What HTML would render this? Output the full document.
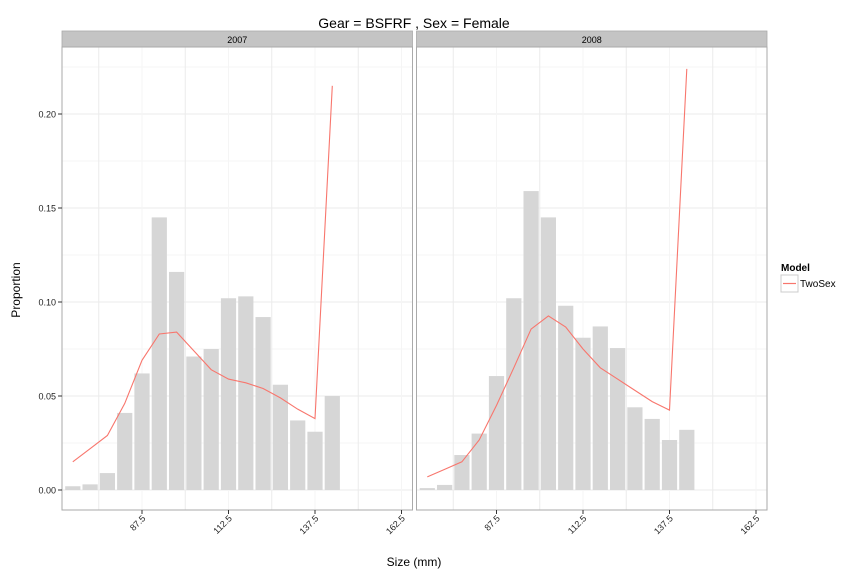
<!DOCTYPE html>
<html><head><meta charset="utf-8"><style>
body{margin:0;background:#fff}
svg{font-family:"Liberation Sans",sans-serif;display:block}
</style></head><body>
<svg id="c" width="864" height="576" viewBox="0 0 864 576">
<text x="414" y="28" text-anchor="middle" font-size="14" fill="#000">Gear = BSFRF , Sex = Female</text>
<text transform="translate(20,290) rotate(-90)" text-anchor="middle" font-size="12">Proportion</text>
<text x="414" y="566" text-anchor="middle" font-size="12">Size (mm)</text>
<g>
<text x="781" y="271" font-size="10" font-weight="bold">Model</text>
<rect x="781" y="275" width="17" height="17" fill="#fff" stroke="#ccc"/>
<line x1="783" y1="283.5" x2="796" y2="283.5" stroke="#F8766D" stroke-width="1.2"/>
<text x="800" y="287" font-size="10">TwoSex</text>
</g>
</svg>
<script>
const sizes=[67.5,72.5,77.5,82.5,87.5,92.5,97.5,102.5,107.5,112.5,117.5,122.5,127.5,132.5,137.5,142.5];
const panels=["2007","2008"];
const obs2007=[0.002,0.003,0.009,0.041,0.062,0.145,0.116,0.071,0.075,0.102,0.103,0.092,0.056,0.037,0.031,0.050];
const pred2007=[0.015,0.022,0.029,0.046,0.069,0.083,0.084,0.074,0.064,0.059,0.057,0.054,0.049,0.043,0.038,0.215];
const obs2008=[0.001,0.0027,0.0186,0.030,0.0606,0.102,0.159,0.145,0.098,0.081,0.087,0.0755,0.044,0.0378,0.0266,0.032];
const pred2008=[0.007,0.011,0.015,0.0266,0.045,0.065,0.0856,0.0926,0.0867,0.075,0.065,0.059,0.053,0.047,0.0425,0.224];
const xTicks=[87.5,112.5,137.5,162.5];
const yTicks=[0,0.05,0.10,0.15,0.20];
const yTickLabels=["0.00","0.05","0.10","0.15","0.20"];
const obs=[obs2007,obs2008], pred=[pred2007,pred2008];
const NS="http://www.w3.org/2000/svg", svgEl=document.getElementById('c');
function mk(t,a,p){const e=document.createElementNS(NS,t);for(const k in a)e.setAttribute(k,a[k]);(p||svgEl).appendChild(e);return e;}
const pxPerUnit=(228.5-142)/25;
const panelLeft=[62,416.5], panelRight=[412.5,767], plotTop=47, plotBottom=510;
function yS(v){return 490-v*1880;}
panels.forEach((p,i)=>{
  const xS=v=>panelLeft[i]+80+(v-87.5)*pxPerUnit;
  const g=mk('g',{});
  
  
  const strip=mk('rect',{x:panelLeft[i],y:31,width:panelRight[i]-panelLeft[i],height:16,fill:'#c4c4c4',stroke:'#aaa','stroke-width':0.8},g);
  
  
  const st=mk('text',{x:(panelLeft[i]+panelRight[i])/2,y:43,'text-anchor':'middle','font-size':9},g);st.textContent=p;
  
  
  mk('rect',{x:panelLeft[i],y:plotTop,width:panelRight[i]-panelLeft[i],height:plotBottom-plotTop,fill:'#fff'},g);
  for(let k=-1;k<=10;k++){const v=k*0.025;const y=yS(v);if(y<plotTop||y>plotBottom)continue;
    mk('line',{x1:panelLeft[i],x2:panelRight[i],y1:y,y2:y,stroke:(k%2===0)?'#ebebeb':'#f5f5f5','stroke-width':1},g);}
  for(let k=0;k<=9;k++){const v=62.5+k*12.5;const x=xS(v);if(x<panelLeft[i]||x>panelRight[i])continue;
    mk('line',{x1:x,x2:x,y1:plotTop,y2:plotBottom,stroke:(k%2===0)?'#f5f5f5':'#ebebeb','stroke-width':1},g);}
  sizes.forEach((s,j)=>{
    const b=mk('rect',{x:xS(s)-7.6,y:yS(obs[i][j]),width:15.2,height:yS(0)-yS(obs[i][j]),fill:'#d6d6d6'},g);
    
    
  });
  const line=mk('polyline',{points:sizes.map((s,j)=>xS(s)+','+yS(pred[i][j])).join(' '),fill:'none',stroke:'#F8766D','stroke-width':1.1},g);
  
  
  mk('rect',{x:panelLeft[i],y:plotTop,width:panelRight[i]-panelLeft[i],height:plotBottom-plotTop,fill:'none',stroke:'#aaa','stroke-width':1},g);
  xTicks.forEach(t=>{const x=xS(t);
    mk('line',{x1:x,x2:x,y1:plotBottom,y2:plotBottom+4,stroke:'#333'},g);
    const tl=mk('text',{transform:`translate(${x+4},${plotBottom+9}) rotate(-45)`,'text-anchor':'end','font-size':9,fill:'#222'},g);
    tl.textContent=t;
    
    
  });
  if(i===0){yTicks.forEach((t,k)=>{const y=yS(t);
    mk('line',{x1:panelLeft[0]-4,x2:panelLeft[0],y1:y,y2:y,stroke:'#333'},g);
    const tl=mk('text',{x:panelLeft[0]-6,y:y+3.5,'text-anchor':'end','font-size':9,fill:'#222'},g);
    tl.textContent=yTickLabels[k];
    
    
  });}
});
</script>
</body></html>
